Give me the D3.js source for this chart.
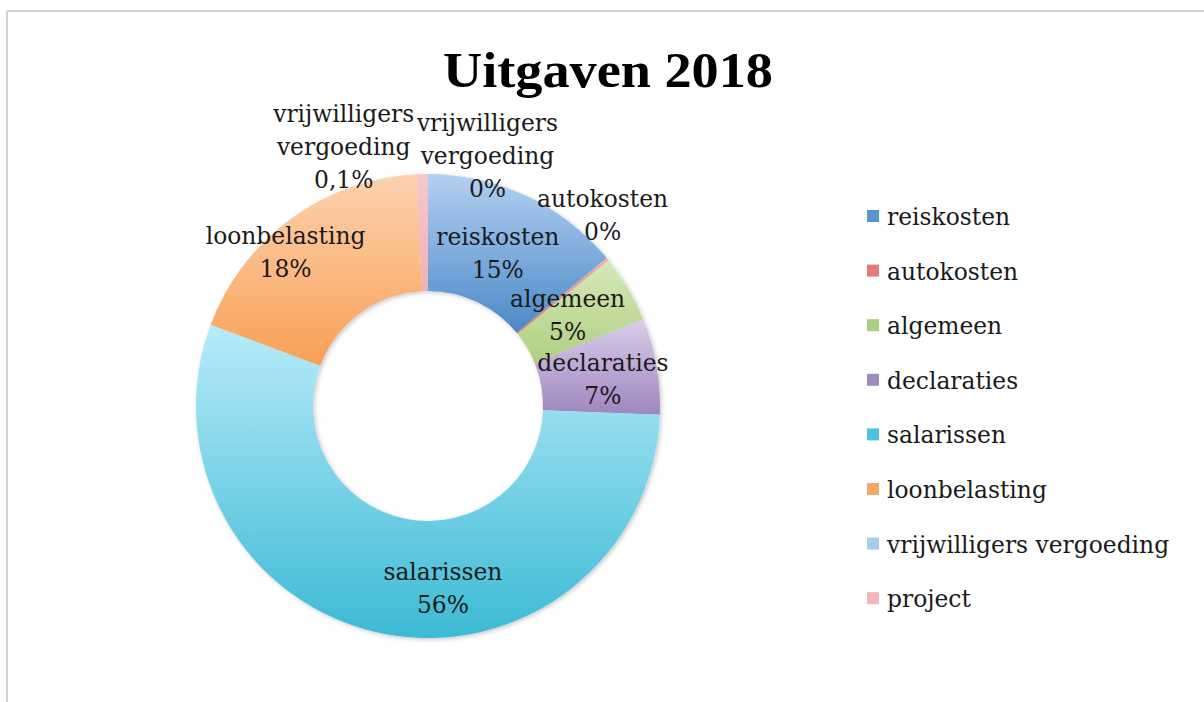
<!DOCTYPE html>
<html>
<head>
<meta charset="utf-8">
<script src="https://cdn.jsdelivr.net/npm/d3@7"></script>
<style>
  body { margin: 0; background: #fff; }
  svg { display: block; }
</style>
</head>
<body>
<div id="chart"></div>
<script>
// data (percent of total)
var categories = ["reiskosten", "autokosten", "algemeen", "declaraties", "salarissen", "loonbelasting", "vrijwilligers vergoeding", "project"];
var values = [14.0, 0.2, 4.7, 6.7, 55.1, 18.5, 0, 0.8];
var labelLines = [
  ["reiskosten", "15%"],
  ["autokosten", "0%"],
  ["algemeen", "5%"],
  ["declaraties", "7%"],
  ["salarissen", "56%"],
  ["loonbelasting", "18%"],
  ["vrijwilligers", "vergoeding", "0%"],
  ["vrijwilligers", "vergoeding", "0,1%"]
];
var title = "Uitgaven 2018";

// styles
var topColors = ["#b4d0f1", "#f0b0b0", "#d6e9ba", "#dacdea", "#b8ebfa", "#fdd2b0", "#c5daf3", "#f6c8cc"];
var bottomColors = ["#4a89c8", "#e07070", "#afcf80", "#9f86c0", "#3cbad4", "#f8a055", "#9dbfe8", "#f0b0b5"];
var legendColors = ["#5b95d0", "#e37b7b", "#a9d07f", "#a08bc1", "#4cc4db", "#f9a765", "#aac9ee", "#f3b6ba"];
// label nudges away from the arc centroid
var labelNudge = [[-4, 4], [-19, -32], [-10, -3], [4, 3], [49, 12], [-40, -13], [72, 0], [-78, -9]];

var width = 1204, height = 702;
var cx = 428, cy = 406, outerR = 232, innerR = 115;
var font = "'DejaVu Serif', serif";
var fontSize = 23.4;

var svg = d3.select("#chart").append("svg")
  .attr("width", width)
  .attr("height", height);

var defs = svg.append("defs");

var shadow = defs.append("filter").attr("id", "shadow")
  .attr("x", "-10%").attr("y", "-10%").attr("width", "120%").attr("height", "120%");
shadow.append("feDropShadow")
  .attr("dx", 1.5).attr("dy", 1.5).attr("stdDeviation", 2)
  .attr("flood-color", "#000").attr("flood-opacity", 0.22);

categories.forEach(function(c, i) {
  var g = defs.append("linearGradient").attr("id", "grad" + i)
    .attr("x1", 0).attr("y1", 0).attr("x2", 0).attr("y2", 1);
  g.append("stop").attr("offset", "0%").attr("stop-color", topColors[i]);
  g.append("stop").attr("offset", "100%").attr("stop-color", bottomColors[i]);
});

// frame lines
svg.append("line").attr("x1", 7).attr("y1", 11).attr("x2", width).attr("y2", 11)
  .attr("stroke", "#d2d2d2").attr("stroke-width", 2);
svg.append("line").attr("x1", 7).attr("y1", 11).attr("x2", 7).attr("y2", height)
  .attr("stroke", "#d2d2d2").attr("stroke-width", 2);

svg.append("text")
  .attr("x", 608).attr("y", 87)
  .attr("text-anchor", "middle")
  .attr("font-family", "'Liberation Serif', serif")
  .attr("font-weight", "bold")
  .attr("font-size", 50)
  .attr("textLength", 330)
  .attr("lengthAdjust", "spacingAndGlyphs")
  .attr("fill", "#000")
  .text(title);

var pie = d3.pie().sort(null).value(function(d) { return d; });
var arcs = pie(values);

var arc = d3.arc().innerRadius(innerR).outerRadius(outerR);
var outArc = d3.arc().innerRadius(250).outerRadius(250);

var chartGroup = svg.append("g")
  .attr("transform", "translate(" + cx + "," + cy + ")");

chartGroup.append("g")
  .attr("filter", "url(#shadow)")
  .selectAll("path")
  .data(arcs)
  .enter()
  .append("path")
  .attr("d", arc)
  .attr("fill", function(d, i) { return "url(#grad" + i + ")"; });

chartGroup.selectAll(".lbl")
  .data(arcs)
  .enter()
  .append("text")
  .attr("class", "lbl")
  .attr("text-anchor", "middle")
  .attr("font-family", font)
  .attr("font-size", fontSize)
  .attr("fill", "#1a1a1a")
  .each(function(d, i) {
    var c = d.data < 1 ? outArc.centroid(d) : arc.centroid(d);
    var x = c[0] + labelNudge[i][0];
    var y = c[1] + labelNudge[i][1];
    var lines = labelLines[i];
    var first = y - (lines.length - 1) * 33 / 2 + 8;
    var t = d3.select(this);
    lines.forEach(function(l, j) {
      t.append("tspan").attr("x", x).attr("y", first + j * 33).text(l);
    });
  });

// legend
var legend = svg.append("g").attr("transform", "translate(867, 225)");
var rows = legend.selectAll("g")
  .data(categories)
  .enter()
  .append("g")
  .attr("transform", function(d, i) { return "translate(0," + (i * 54.6) + ")"; });

rows.append("rect")
  .attr("x", 0).attr("y", -15)
  .attr("width", 12).attr("height", 12)
  .attr("fill", function(d, i) { return legendColors[i]; });

rows.append("text")
  .attr("x", 20).attr("y", 0)
  .attr("font-family", font)
  .attr("font-size", fontSize)
  .attr("fill", "#1a1a1a")
  .text(function(d) { return d; });
</script>
</body>
</html>
